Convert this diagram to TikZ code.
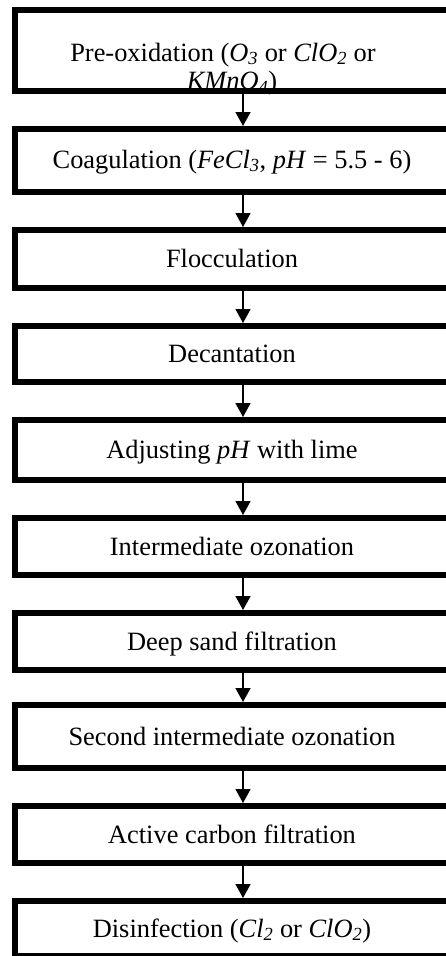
\documentclass[tikz,border=0pt]{standalone}
\usepackage{fontspec}
\setmainfont{Liberation Serif}
\usetikzlibrary{arrows.meta}
\tikzset{
  stepbox/.style={draw=black, line width=6pt, inner sep=0pt, minimum width=434pt},
  steptext/.style={anchor=base, inner sep=0pt, font=\fontsize{26.4pt}{30pt}\selectfont},
  flowarrow/.style={line width=1.5pt, -{Triangle[width=15pt,length=14pt]}}
}
\newcommand{\chem}[2]{\textit{#1\textsubscript{#2}}}
\begin{document}
\begin{tikzpicture}[x=1pt,y=-1pt]
\useasboundingbox (0,0) rectangle (446,956);
\coordinate (ax) at (243,0);
% texts (drawn first so box borders lie over them)
\node[steptext] (t1a) at (223,61) {Pre-oxidation (\chem{O}{3} or \chem{ClO}{2} or};
\node[steptext] (t1b) at (232,89.5) {\chem{KMnO}{4})};
\node[steptext] (t2) at (232,168) {Coagulation (\chem{FeCl}{3}, \textit{pH} = 5.5 - 6)};
\node[steptext] (t3) at (232,267.5) {Flocculation};
\node[steptext] (t4) at (232,362.5) {Decantation};
\node[steptext] (t5) at (232,458.5) {Adjusting \textit{pH} with lime};
\node[steptext] (t6) at (232,555) {Intermediate ozonation};
\node[steptext] (t7) at (232,650) {Deep sand filtration};
\node[steptext] (t8) at (232,745) {Second intermediate ozonation};
\node[steptext] (t9) at (232,843) {Active carbon filtration};
\node[steptext] (t10) at (232,937) {Disinfection (\chem{Cl}{2} or \chem{ClO}{2})};
% boxes
\node[stepbox, minimum height=81pt] (b1) at (232,50.5) {};
\node[stepbox, minimum height=63pt] (b2) at (232,160.5) {};
\node[stepbox, minimum height=58pt] (b3) at (232,259) {};
\node[stepbox, minimum height=56pt] (b4) at (232,354) {};
\node[stepbox, minimum height=60pt] (b5) at (232,450) {};
\node[stepbox, minimum height=57pt] (b6) at (232,546.5) {};
\node[stepbox, minimum height=57pt] (b7) at (232,641.5) {};
\node[stepbox, minimum height=63pt] (b8) at (232,736.5) {};
\node[stepbox, minimum height=57pt] (b9) at (232,834.5) {};
\node[stepbox, minimum height=55pt] (b10) at (232,928.5) {};
% arrows
\foreach \a/\b in {b1/b2,b2/b3,b3/b4,b4/b5,b5/b6,b6/b7,b7/b8,b8/b9,b9/b10}
  \draw[flowarrow] (\a.south -| ax) -- (\b.north -| ax);
\end{tikzpicture}
\end{document}
